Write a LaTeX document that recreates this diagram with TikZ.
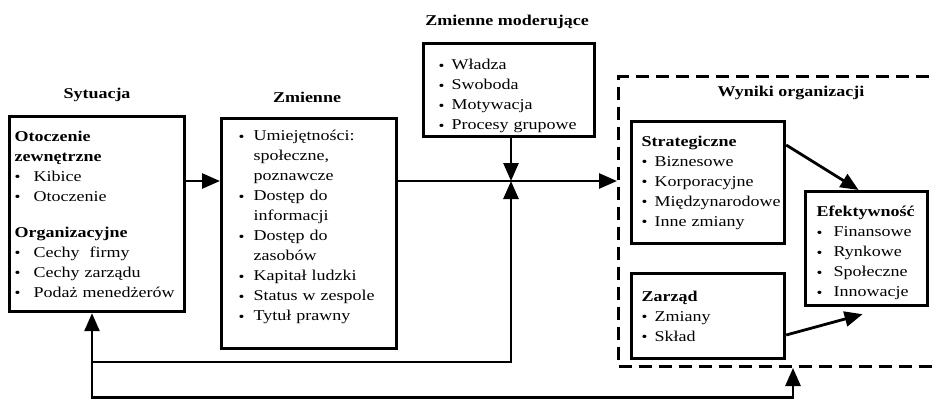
\documentclass[tikz,border=0pt]{standalone}
\usepackage{fontspec}
\setmainfont{Liberation Serif}[FakeStretch=1.2]
\usetikzlibrary{arrows.meta,calc}

% left offset of the lines and width reserved for the bullet
\newlength\boxlo
\newlength\boxbg
\newcommand\bulletdot{{\fontsize{14}{14}\selectfont\raisebox{-0.6pt}{\textbullet}}}
\newcommand\Bul{\hspace*{\boxlo}\makebox[\boxbg][l]{\bulletdot}}
\newcommand\Hd{\hspace*{\boxlo}}
\newcommand\Cont{\hspace*{\boxlo}\hspace*{\boxbg}}
% struts that move a text block up or down inside its frame
\newcommand\topstrut[1]{\rule{0pt}{#1}}
\newcommand\botstrut[1]{\rule[-#1]{0pt}{#1}}

\tikzset{
  box/.style={draw, line width=3.2pt, anchor=north west, align=left,
    inner xsep=0pt, inner ysep=0pt, font=\fontsize{15}{20}\selectfont},
  boxoff/.style 2 args={execute at begin node={\setlength\boxlo{#1}\setlength\boxbg{#2}}},
  ttl/.style={font=\bfseries\fontsize{15}{18}\selectfont},
  tip/.tip={Triangle[length=18pt,width=15pt]},
  arr/.style={line width=2.8pt, -tip},
  fb/.style={line width=2.6pt},
}

\begin{document}
\begin{tikzpicture}[x=1pt,y=-1pt]
\useasboundingbox (0,0) rectangle (935,399);
\clip (0,0) rectangle (935,399);
\fill[white] (0,0) rectangle (935,399);

% column titles
\node[ttl] (tsyt) at (97,95) {Sytuacja};
\node[ttl] (tzm) at (307,97) {Zmienne};
\node[ttl] (tmod) at (507,22) {Zmienne moderujące};
\node[ttl] (twyn) at (791,93) {Wyniki organizacji};

% situation
\node[box, boxoff={5pt}{19pt}, text width=175pt, minimum height=195pt] (syt) at (8,115) {%
\Hd\textbf{Otoczenie}\\
\Hd\textbf{zewnętrzne}\\
\Bul Kibice\\
\Bul Otoczenie\\[16pt]
\Hd\textbf{Organizacyjne}\\
\Bul Cechy\ \ firmy\\
\Bul Cechy zarządu\\
\Bul Podaż menedżerów};

% variables
\node[box, boxoff={17pt}{15pt}, text width=175pt, minimum height=230pt] (zm) at (220,117) {%
\Bul Umiejętności:\\
\Cont społeczne,\\
\Cont poznawcze\\
\Bul Dostęp do\\
\Cont informacji\\
\Bul Dostęp do\\
\Cont zasobów\\
\Bul Kapitał ludzki\\
\Bul Status w zespole\\
\Bul Tytuł prawny\botstrut{16pt}};

% moderating variables
\node[box, boxoff={15pt}{13pt}, text width=171pt, minimum height=93pt] (mod) at (422,42) {%
\Bul\topstrut{23pt}Władza\\
\Bul Swoboda\\
\Bul Motywacja\\
\Bul Procesy grupowe};

% organisational outcomes (dashed frame)
\node[draw, line width=3pt, dash pattern=on 13pt off 7pt, anchor=north west,
  minimum width=340pt, minimum height=290pt, inner sep=0pt] (wyn) at (617,75) {};

\node[box, boxoff={10pt}{13pt}, text width=153pt, minimum height=122pt] (str) at (630,120) {%
\Hd\textbf{Strategiczne}\\
\Bul Biznesowe\\
\Bul Korporacyjne\\
\Bul Międzynarodowe\\
\Bul Inne zmiany};

\node[box, boxoff={10pt}{13pt}, text width=153pt, minimum height=85pt] (zar) at (630,272) {%
\Hd\textbf{Zarząd}\\
\Bul Zmiany\\
\Bul Skład};

\node[box, boxoff={11pt}{17pt}, text width=122pt, minimum height=114pt] (eff) at (804,190) {%
\Hd\topstrut{19pt}\textbf{Efektywność}\\
\Bul Finansowe\\
\Bul Rynkowe\\
\Bul Społeczne\\
\Bul Innowacje};

% helper points of the connectors
\coordinate (j) at (511,181);
\coordinate (fbm) at (92,362);
\coordinate (fbb) at (92,397.5);
\coordinate (xr) at (793,397.5);

% main flow
\draw[arr] (syt.east |- j) -- (zm.west |- j);
\draw[arr] (zm.east |- j) -- (wyn.west |- j);
\draw[arr] (mod.south -| j) -- (j);
\draw[arr] ($(str.north east)+(0,25)$) -- ($(eff.north)+(-8,0)$);
\draw[arr] ($(zar.north east)+(0,63)$) -- ($(eff.south)+(-4,7)$);

% feedback loops
\draw[fb, tip-tip] (syt.south -| fbb) -- (fbb) -- (xr) -- (wyn.south -| xr);
\draw[fb, -tip] (fbm) -- (fbm -| j) -- (j);
\end{tikzpicture}
\end{document}
